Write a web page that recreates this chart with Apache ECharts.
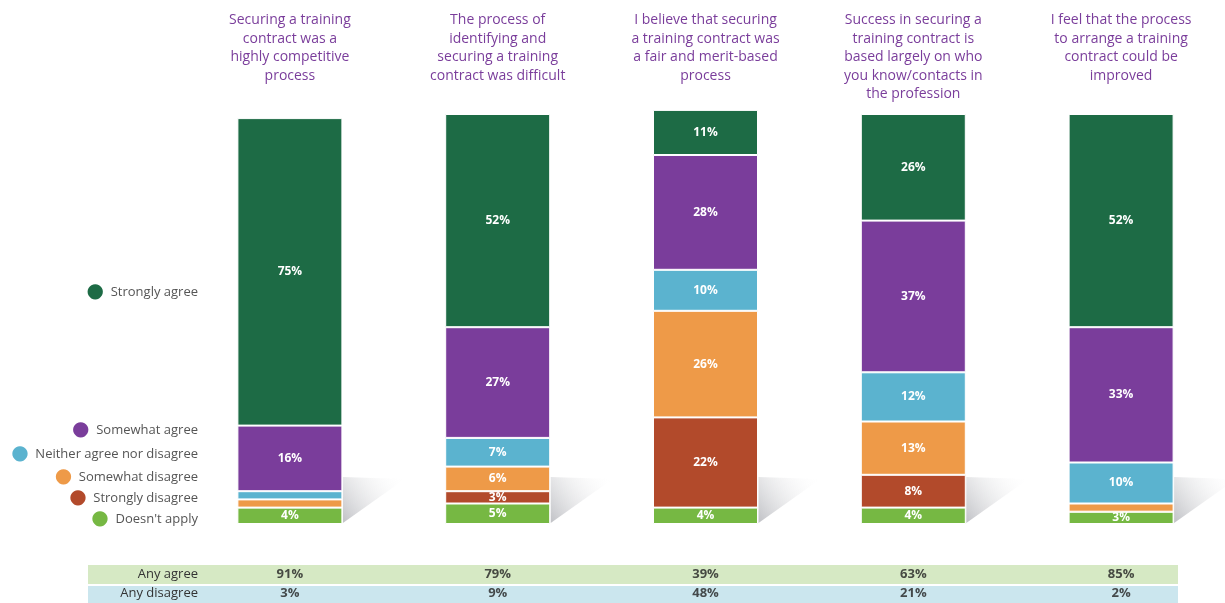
<!DOCTYPE html>
<html>
<head>
<meta charset="utf-8">
<title>Training contract survey</title>
<script src="https://cdn.jsdelivr.net/npm/echarts@6/dist/echarts.min.js"></script>
<style>
  html, body { margin: 0; padding: 0; background: #fff; }
  #chart { width: 1225px; height: 603px; }
</style>
</head>
<body>
<div id="chart"></div>
<script>
const categories = [
  'Securing a training\ncontract was a\nhighly competitive\nprocess',
  'The process of\nidentifying and\nsecuring a training\ncontract was difficult',
  'I believe that securing\na training contract was\na fair and merit-based\nprocess',
  'Success in securing a\ntraining contract is\nbased largely on who\nyou know/contacts in\nthe profession',
  'I feel that the process\nto arrange a training\ncontract could be\nimproved'
];
const levels = ['Strongly agree', 'Somewhat agree', 'Neither agree nor disagree',
  'Somewhat disagree', 'Strongly disagree', "Doesn't apply"];
const stronglyAgree = [75, 52, 11, 26, 52];
const somewhatAgree = [16, 27, 28, 37, 33];
const neither = [2, 7, 10, 12, 10];
const somewhatDisagree = [2, 6, 26, 13, 2];
const stronglyDisagree = [0, 3, 22, 8, 0];
const doesntApply = [4, 5, 4, 4, 3];
const tableRows = ['Any agree', 'Any disagree'];
const anyAgree = [91, 79, 39, 63, 85];
const anyDisagree = [3, 9, 48, 21, 2];

const colors = ['#1d6b45', '#7a3d9b', '#5bb3cf', '#ee9a48', '#b24a2b', '#76b843'];
const font = '"Open Sans", "Noto Sans", sans-serif';

const chart = echarts.init(document.getElementById('chart'), null, { renderer: 'canvas' });

// stack from the bottom up: doesn't apply first, strongly agree last
const stackData = [doesntApply, stronglyDisagree, somewhatDisagree, neither, somewhatAgree, stronglyAgree];
const stackNames = levels.slice().reverse();
const stackColors = colors.slice().reverse();

const barSeries = stackData.map((values, i) => ({
  name: stackNames[i],
  type: 'bar',
  stack: 'total',
  barWidth: 105,
  clip: false,
  xAxisIndex: 0,
  yAxisIndex: 0,
  data: values,
  itemStyle: { color: stackColors[i], borderColor: '#fff', borderWidth: 1 },
  label: {
    show: true,
    position: 'inside',
    color: '#fff',
    fontFamily: font,
    fontWeight: 'bold',
    fontSize: 12,
    formatter: (p) => (p.value >= 3 ? p.value + '%' : '')
  }
}));

const shadowSeries = {
  type: 'custom',
  xAxisIndex: 0,
  yAxisIndex: 0,
  silent: true,
  z: 1,
  data: categories.map((c, i) => [i, 0]),
  renderItem: (params, api) => {
    const base = api.coord([api.value(0), 0]);
    const right = base[0] + 53;
    const bottom = base[1] - 1;
    return {
      type: 'polygon',
      shape: { points: [[right, bottom], [right, bottom - 46], [right + 62, bottom - 44]] },
      style: {
        fill: new echarts.graphic.LinearGradient(0, 1, 1, 0, [
          { offset: 0, color: 'rgba(140,142,150,0.55)' },
          { offset: 1, color: 'rgba(255,255,255,0)' }
        ])
      }
    };
  }
};

const tableSeries = [anyAgree, anyDisagree].map((values, row) => ({
  type: 'scatter',
  xAxisIndex: 1,
  yAxisIndex: 1,
  symbolSize: 2,
  itemStyle: { color: 'rgba(0,0,0,0)' },
  silent: true,
  z: 5,
  data: values.map((v, i) => [i, row, v]),
  label: {
    show: true,
    position: 'inside',
    color: '#222',
    fontFamily: font,
    fontWeight: 'bold',
    fontSize: 13,
    formatter: (p) => p.value[2] + '%'
  }
}));

// legend rows, right aligned next to the first bar
const legendY = [293, 431, 455, 478, 499, 520];
const legendGraphics = levels.map((name, i) => ({
  type: 'text',
  right: 1225 - 198,
  top: legendY[i] - 11,
  style: {
    text: '{dot|●}  {t|' + name + '}',
    rich: {
      dot: { fill: colors[i], fontSize: 20, fontFamily: 'DejaVu Sans', verticalAlign: 'middle' },
      t: { fill: '#555', fontSize: 13, fontFamily: font, verticalAlign: 'middle' }
    }
  }
}));

const tableBands = [
  { y: 565, h: 19, color: '#d6e9c4' },
  { y: 586, h: 17, color: '#cbe6ee' }
].map((b) => ({
  type: 'rect',
  z: -10,
  shape: { x: 88, y: b.y, width: 1090, height: b.h },
  style: { fill: b.color }
}));

chart.setOption({
  animation: false,
  textStyle: { fontFamily: font },
  grid: [
    { left: 186, right: 0, top: 114, bottom: 79 },
    { left: 186, right: 0, top: 565, height: 38 }
  ],
  xAxis: [
    {
      type: 'category',
      gridIndex: 0,
      position: 'top',
      data: categories,
      axisLine: { show: false },
      axisTick: { show: false },
      axisLabel: {
        interval: 0,
        color: '#7a3d9b',
        fontSize: 14,
        lineHeight: 18.5,
        margin: 103,
        verticalAlign: 'top',
        fontFamily: font
      }
    },
    {
      type: 'category',
      gridIndex: 1,
      data: categories,
      axisLine: { show: false },
      axisTick: { show: false },
      axisLabel: { show: false }
    }
  ],
  yAxis: [
    { type: 'value', gridIndex: 0, min: 0, max: 100, show: false },
    {
      type: 'category',
      gridIndex: 1,
      inverse: true,
      data: tableRows,
      axisLine: { show: false },
      axisTick: { show: false },
      splitLine: { show: false },
      axisLabel: { color: '#333', fontSize: 13, margin: -12, fontFamily: font }
    }
  ],
  graphic: [...tableBands, ...legendGraphics],
  series: [shadowSeries, ...barSeries, ...tableSeries]
});
</script>
</body>
</html>
